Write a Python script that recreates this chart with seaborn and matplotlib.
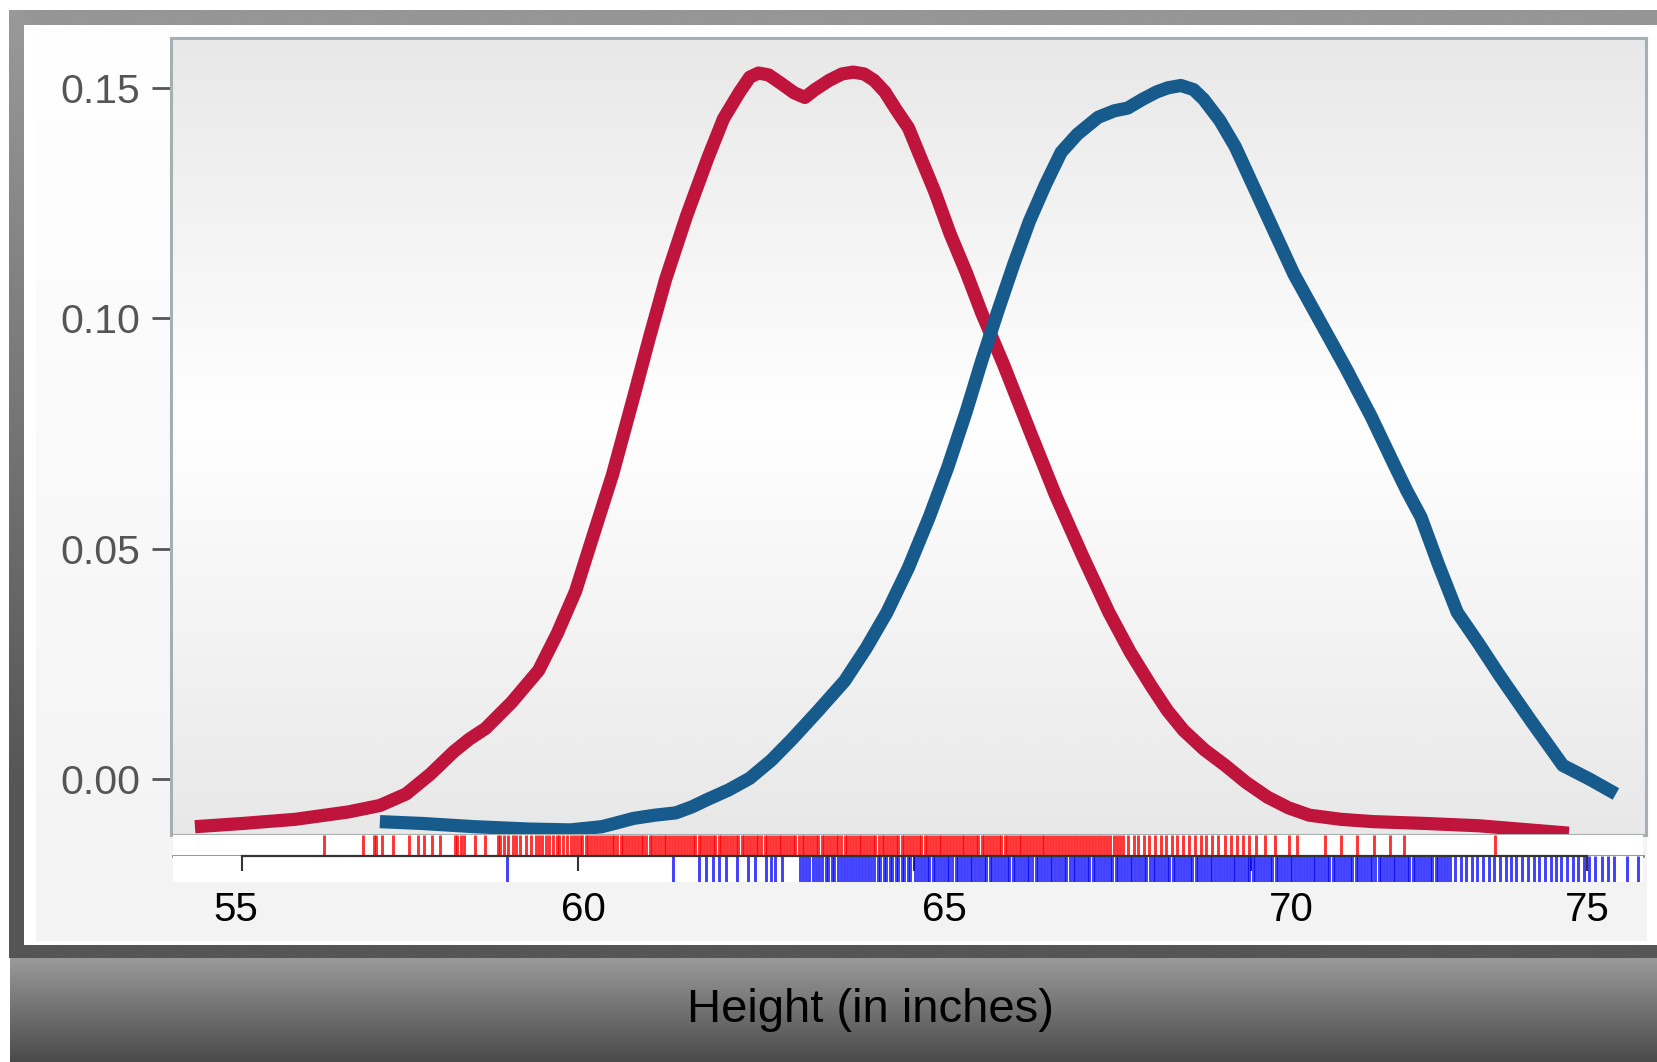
import numpy as np
import matplotlib
matplotlib.use("Agg")
import matplotlib.pyplot as plt
import matplotlib.transforms as mtransforms
from matplotlib.colors import LinearSegmentedColormap
import seaborn as sns

# Estimated density curves (height in inches, density)
FEMALE_X = [54.30, 55.01, 55.79, 56.58, 57.05, 57.44, 57.80, 58.15, 58.38, 58.62, 59.01,
            59.41, 59.69, 59.96, 60.22, 60.51, 60.83, 61.06, 61.30, 61.61, 61.93, 62.16,
            62.40, 62.55, 62.68, 62.83, 63.02, 63.21, 63.37, 63.52, 63.73, 63.92, 64.09,
            64.25, 64.40, 64.56, 64.72, 64.91, 65.09, 65.30, 65.53, 65.77, 66.00, 66.32,
            66.71, 67.10, 67.50, 67.89, 68.21, 68.52, 68.76, 69.00, 69.31, 69.62, 69.93,
            70.25, 70.56, 70.87, 71.34, 71.82, 72.60, 73.39, 74.73]
FEMALE_DENSITY = [-0.0103, -0.0096, -0.0087, -0.0071, -0.0057, -0.0032, 0.0011, 0.0060,
                  0.0087, 0.0110, 0.0167, 0.0236, 0.0317, 0.0408, 0.0528, 0.0661, 0.0833,
                  0.0959, 0.1085, 0.1222, 0.1349, 0.1433, 0.1491, 0.1523, 0.1532, 0.1528,
                  0.1509, 0.1489, 0.1479, 0.1496, 0.1516, 0.1530, 0.1534, 0.1530, 0.1516,
                  0.1491, 0.1454, 0.1413, 0.1349, 0.1275, 0.1183, 0.1099, 0.1011, 0.0901,
                  0.0757, 0.0615, 0.0484, 0.0362, 0.0275, 0.0202, 0.0149, 0.0106, 0.0064,
                  0.0030, -0.0007, -0.0039, -0.0062, -0.0078, -0.0087, -0.0092, -0.0096,
                  -0.0101, -0.0117]

MALE_X = [57.05, 57.68, 58.46, 59.25, 59.88, 60.35, 60.59, 60.82, 61.14, 61.45, 61.69, 61.92,
          62.24, 62.55, 62.87, 63.18, 63.57, 63.96, 64.28, 64.59, 64.91, 65.22, 65.50, 65.77,
          66.00, 66.24, 66.48, 66.71, 66.95, 67.18, 67.42, 67.73, 67.97, 68.17, 68.39, 68.60,
          68.77, 68.96, 69.15, 69.30, 69.54, 69.77, 70.17, 70.64, 71.03, 71.42, 71.79, 72.13,
          72.32, 72.53, 72.79, 73.07, 73.39, 73.70, 74.17, 74.64, 75.04, 75.43]
MALE_DENSITY = [-0.0092, -0.0096, -0.0103, -0.0108, -0.0110, -0.0103, -0.0094, -0.0085,
                -0.0078, -0.0073, -0.0060, -0.0044, -0.0023, 0.0002, 0.0041, 0.0087, 0.0149,
                0.0213, 0.0284, 0.0362, 0.0459, 0.0569, 0.0679, 0.0798, 0.0908, 0.1016,
                0.1119, 0.1211, 0.1291, 0.1360, 0.1399, 0.1436, 0.1450, 0.1456, 0.1475,
                0.1491, 0.1500, 0.1505, 0.1496, 0.1475, 0.1429, 0.1372, 0.1245, 0.1096,
                0.0993, 0.0890, 0.0787, 0.0683, 0.0626, 0.0569, 0.0466, 0.0362, 0.0294,
                0.0225, 0.0126, 0.0030, 0.0000, -0.0032]

# Individual observations shown as rugs
FEMALE_HEIGHTS = [
    56.22, 56.80, 56.96, 57.00, 57.08, 57.24, 57.48, 57.62, 57.70, 57.83, 57.95, 58.16, 58.20,
    58.25, 58.30, 58.47, 58.62, 58.80, 58.84, 58.90, 58.95, 59.03, 59.08, 59.14, 59.22, 59.30,
    59.37, 59.41, 59.46, 59.52, 59.57, 59.63, 59.68, 59.72, 59.78, 59.84, 59.89, 59.94, 59.98,
    60.02, 60.06, 60.11, 60.15, 60.19, 60.24, 60.28, 60.33, 60.37, 60.41, 60.46, 60.50, 60.53,
    60.58, 60.63, 60.67, 60.71, 60.75, 60.80, 60.84, 60.89, 60.93, 60.97,
    61.01, 61.06, 61.10, 61.14, 61.18, 61.23, 61.27, 61.31, 61.35, 61.40, 61.44, 61.48, 61.53,
    61.57, 61.61, 61.66, 61.70, 61.74, 61.79, 61.83, 61.87, 61.92, 61.96,
    62.00, 62.04, 62.09, 62.13, 62.17, 62.21, 62.26, 62.30, 62.34, 62.38, 62.43, 62.47, 62.51,
    62.55, 62.60, 62.64, 62.68, 62.72, 62.77, 62.81, 62.85, 62.89, 62.94, 62.98,
    63.02, 63.06, 63.11, 63.15, 63.19, 63.23, 63.28, 63.32, 63.36, 63.40, 63.45, 63.49, 63.53,
    63.57, 63.62, 63.66, 63.70, 63.74, 63.79, 63.83, 63.87, 63.91, 63.96,
    64.00, 64.04, 64.08, 64.13, 64.17, 64.21, 64.25, 64.30, 64.34, 64.38, 64.42, 64.47, 64.51,
    64.55, 64.59, 64.64, 64.68, 64.72, 64.76, 64.81, 64.85, 64.89, 64.93, 64.98,
    65.02, 65.06, 65.10, 65.15, 65.19, 65.23, 65.27, 65.32, 65.36, 65.40, 65.44, 65.49, 65.53,
    65.57, 65.61, 65.66, 65.70, 65.74, 65.78, 65.83, 65.87, 65.91, 65.95,
    66.00, 66.04, 66.08, 66.12, 66.17, 66.21, 66.25, 66.29, 66.34, 66.38, 66.42, 66.46, 66.51,
    66.55, 66.59, 66.63, 66.68, 66.72, 66.76, 66.80, 66.85, 66.89, 66.93, 66.97,
    67.02, 67.06, 67.10, 67.15, 67.19, 67.24, 67.28, 67.33, 67.37, 67.42, 67.46, 67.51, 67.55,
    67.60, 67.64, 67.69, 67.73, 67.78, 67.82, 67.87, 67.91, 67.96,
    68.01, 68.05, 68.10, 68.18, 68.26, 68.33, 68.41, 68.49, 68.58, 68.66, 68.74, 68.83, 68.91,
    69.00, 69.08, 69.17, 69.26, 69.34, 69.43, 69.52, 69.61, 69.70, 69.79, 69.88, 69.97,
    70.08, 70.21, 70.36, 70.57, 70.69, 71.10, 71.34, 71.58, 71.83, 72.07, 72.28, 73.63,
]
MALE_HEIGHTS = [
    58.94, 61.41, 61.80, 61.90, 62.01, 62.10, 62.20, 62.36, 62.52, 62.63, 62.79, 62.86, 62.93,
    63.03, 63.30, 63.34, 63.39, 63.43, 63.49, 63.53, 63.58, 63.62, 63.68, 63.72, 63.77, 63.81,
    63.86, 63.90, 63.95, 64.00, 64.04, 64.09, 64.13, 64.18, 64.22, 64.27, 64.31, 64.36, 64.40,
    64.45, 64.49, 64.54, 64.58, 64.63, 64.67, 64.72, 64.76, 64.81, 64.85, 64.90, 64.94,
    65.01, 65.05, 65.10, 65.14, 65.18, 65.22, 65.27, 65.31, 65.35, 65.39, 65.44, 65.48, 65.52,
    65.56, 65.61, 65.65, 65.69, 65.73, 65.78, 65.82, 65.86, 65.90, 65.95, 65.99,
    66.03, 66.07, 66.12, 66.16, 66.20, 66.24, 66.29, 66.33, 66.37, 66.41, 66.46, 66.50, 66.54,
    66.58, 66.63, 66.67, 66.71, 66.75, 66.80, 66.84, 66.88, 66.92, 66.97,
    67.01, 67.05, 67.09, 67.14, 67.18, 67.22, 67.26, 67.31, 67.35, 67.39, 67.43, 67.48, 67.52,
    67.56, 67.60, 67.65, 67.69, 67.73, 67.77, 67.82, 67.86, 67.90, 67.94, 67.99,
    68.03, 68.07, 68.11, 68.16, 68.20, 68.24, 68.28, 68.33, 68.37, 68.41, 68.45, 68.50, 68.54,
    68.58, 68.62, 68.67, 68.71, 68.75, 68.79, 68.84, 68.88, 68.92, 68.96,
    69.01, 69.05, 69.09, 69.13, 69.18, 69.22, 69.26, 69.30, 69.35, 69.39, 69.43, 69.47, 69.52,
    69.56, 69.60, 69.64, 69.69, 69.73, 69.77, 69.81, 69.86, 69.90, 69.94, 69.98,
    70.03, 70.07, 70.11, 70.15, 70.20, 70.24, 70.28, 70.32, 70.37, 70.41, 70.45, 70.49, 70.54,
    70.58, 70.62, 70.66, 70.71, 70.75, 70.79, 70.83, 70.88, 70.92, 70.96,
    71.00, 71.05, 71.09, 71.13, 71.17, 71.22, 71.26, 71.30, 71.34, 71.39, 71.43, 71.47, 71.51,
    71.56, 71.60, 71.64, 71.68, 71.73, 71.77, 71.81, 71.85, 71.90, 71.94, 71.98,
    72.02, 72.07, 72.11, 72.15, 72.19, 72.24, 72.28, 72.32, 72.36, 72.41, 72.45, 72.49, 72.53,
    72.58, 72.62, 72.66, 72.70, 72.75, 72.79, 72.83, 72.87, 72.92, 72.96,
    73.04, 73.12, 73.20, 73.29, 73.37, 73.45, 73.54, 73.62, 73.70, 73.79, 73.87, 73.95,
    74.04, 74.12, 74.21, 74.29, 74.37, 74.46, 74.54, 74.62, 74.71, 74.79, 74.87, 74.96,
    75.03, 75.12, 75.22, 75.31, 75.40, 75.60, 75.76,
]

X_TICKS = [55, 60, 65, 70, 75]
X_TICK_LABEL_POS = [54.90, 60.07, 65.44, 70.60, 75.00]
Y_TICKS = [0.00, 0.05, 0.10, 0.15]
X_LABEL = "Height (in inches)"

FEMALE_COLOR = "#bf143b"
MALE_COLOR = "#175a8c"

sns.set_theme(style="white")
plt.rcParams["font.family"] = ["Liberation Sans", "DejaVu Sans"]

W, H = 1657, 1062
fig = plt.figure(figsize=(W / 100, H / 100), dpi=100)
fig.patch.set_facecolor("white")


def box(x0, y0, x1, y1):
    """Pixel box (origin top-left) -> figure-fraction rect."""
    return [x0 / W, 1 - y1 / H, (x1 - x0) / W, (y1 - y0) / H]


# Decorative frame and backgrounds
bg = fig.add_axes([0, 0, 1, 1], zorder=-5)
bg.axis("off")


def vgrad(x0, x1, y0, y1, stops):
    cmap = LinearSegmentedColormap.from_list("g", stops)
    grad = np.linspace(0, 1, 256).reshape(-1, 1)
    bg.imshow(grad, cmap=cmap, extent=(x0, x1, y1, y0), aspect="auto",
              interpolation="bilinear", vmin=0, vmax=1)


vgrad(10, W, 10, 25, [(0, "#969696"), (1, "#969696")])
vgrad(9, 24, 10, 958, [(0, "#999999"), (0.83, "#555555"), (1, "#555555")])
vgrad(36, 1647, 25, 941, [(0, "#ffffff"), (0.2, "#fdfdfd"), (1, "#f3f3f3")])
vgrad(9, W, 945, 958, [(0, "#555555"), (1, "#555555")])
vgrad(10, W, 958, H, [(0, "#9a9a9a"), (1, "#4a4a4a")])
vgrad(171, 1646, 38, 835, [(0, "#e8e8e8"), (0.48, "#ffffff"), (1, "#e8e8e8")])
bg.set_xlim(0, W)
bg.set_ylim(H, 0)

# Density panel
ax = fig.add_axes(box(171, 38, 1646, 835))
ax.set_facecolor("none")
sns.lineplot(x=FEMALE_X, y=FEMALE_DENSITY, ax=ax, color=FEMALE_COLOR, linewidth=9.5,
             sort=False, estimator=None, solid_capstyle="butt", solid_joinstyle="round")
sns.lineplot(x=MALE_X, y=MALE_DENSITY, ax=ax, color=MALE_COLOR, linewidth=9.5,
             sort=False, estimator=None, solid_capstyle="butt", solid_joinstyle="round")
ax.set_xlim(53.944, 75.877)
ax.set_ylim(-0.0121, 0.1608)
ax.set_xticks([])
ax.set_yticks(Y_TICKS)
ax.set_yticklabels([f"{v:.2f}" for v in Y_TICKS])
ax.tick_params(axis="y", left=True, length=13.7, width=2, color="#555555",
               labelsize=29.5, labelcolor="#555555", pad=8.6)
ax.set_xlabel("")
ax.set_ylabel("")
for s in ax.spines.values():
    s.set_visible(True)
    s.set_color("#a6afb4")
    s.set_linewidth(2.2)

XLIM_RUG = (53.974, 75.833)

# Female rug above the axis line
ax_r = fig.add_axes(box(173, 835, 1643, 856))
ax_r.set_facecolor("white")
sns.rugplot(x=FEMALE_HEIGHTS, ax=ax_r, height=1, color="#ff0000", alpha=0.8,
            linewidth=2.1, expand_margins=False)
ax_r.set_xlim(*XLIM_RUG)
ax_r.set_ylim(0, 1)
ax_r.set_xticks([])
ax_r.set_yticks([])
for name, s in ax_r.spines.items():
    s.set_visible(name == "bottom")
ax_r.spines["bottom"].set_color("#8c8c8c")
ax_r.spines["bottom"].set_linewidth(2)

# Male rug below the axis line
ax_b = fig.add_axes(box(173, 856, 1643, 882))
ax_b.set_facecolor("white")
sns.rugplot(x=MALE_HEIGHTS, ax=ax_b, height=1, color="#0000ff", alpha=0.75,
            linewidth=2.1, expand_margins=False)
ax_b.set_xlim(*XLIM_RUG)
ax_b.set_ylim(0, 1)
ax_b.set_yticks([])
ax_b.xaxis.tick_top()
ax_b.set_xticks(X_TICKS)
ax_b.tick_params(axis="x", top=True, direction="in", length=10.8, width=1.5,
                 color="#333333", labeltop=False, labelbottom=False)
for name, s in ax_b.spines.items():
    s.set_visible(name == "top")
ax_b.spines["top"].set_color("#333333")
ax_b.spines["top"].set_linewidth(1.6)
ax_b.spines["top"].set_bounds(55, 75)
ax_b.spines["top"].set_zorder(5)

trans = mtransforms.blended_transform_factory(ax_b.transData, fig.transFigure)
for xpos, lab in zip(X_TICK_LABEL_POS, X_TICKS):
    ax_b.text(xpos, 1 - 910 / H, str(lab), transform=trans, ha="center", va="center",
              fontsize=29, color="black", clip_on=False)

fig.text(870 / W, 1 - 1022 / H, X_LABEL, ha="center", va="baseline",
         fontsize=34, color="black")

fig.savefig("out.png", dpi=100)
